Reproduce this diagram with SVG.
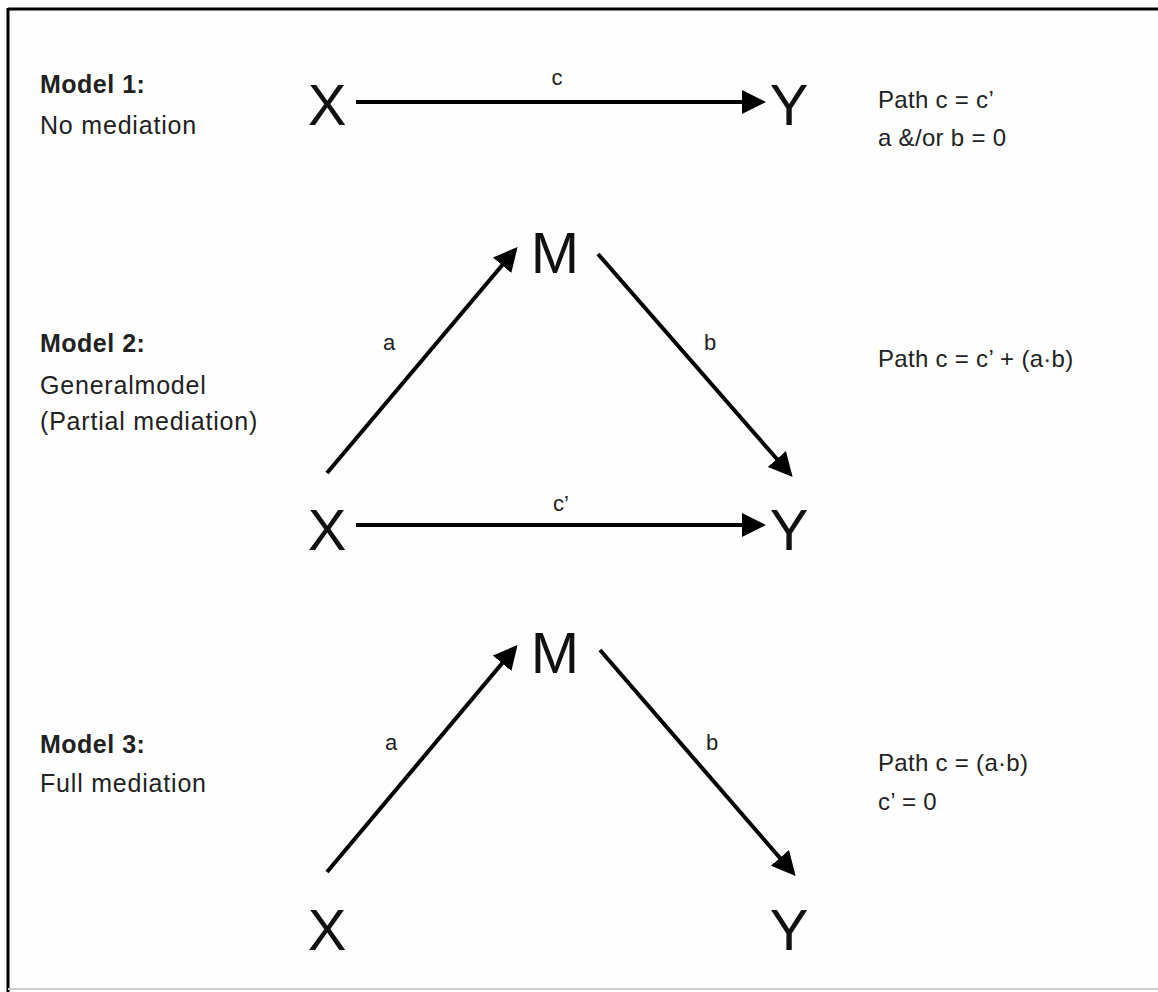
<svg xmlns="http://www.w3.org/2000/svg" width="1158" height="992" viewBox="0 0 1158 992">
<defs>
<marker id="ah" markerWidth="6" markerHeight="6" refX="5" refY="3" orient="auto" markerUnits="strokeWidth">
<path d="M0,0 L6,3 L0,6 z" fill="#000"/>
</marker>
<style>
.var{font-family:"Liberation Sans",Arial,sans-serif;font-size:58px;fill:#111;text-anchor:middle}
.lbl{font-family:"Liberation Sans",Arial,sans-serif;font-size:25px;fill:#222;letter-spacing:0.8px}
.rt{font-family:"Liberation Sans",Arial,sans-serif;font-size:24px;fill:#222;letter-spacing:0.3px}
.bold{font-weight:bold;letter-spacing:0.5px}
.edge{font-family:"Liberation Sans",Arial,sans-serif;font-size:22px;fill:#222;text-anchor:middle}
.conn{stroke:#000;stroke-width:4;fill:none;marker-end:url(#ah)}
</style>
</defs>
<rect width="1158" height="992" fill="#fefefe"/>
<line x1="8" y1="9" x2="1158" y2="9" stroke="#000" stroke-width="3"/>
<line x1="8" y1="8" x2="8" y2="992" stroke="#000" stroke-width="3"/>
<line x1="8" y1="989" x2="1158" y2="989" stroke="#ccc" stroke-width="2"/>

<g id="labels">
<text class="lbl bold" x="40" y="93">Model 1:</text>
<text class="lbl" x="40" y="134">No mediation</text>
<text class="lbl bold" x="40" y="352">Model 2:</text>
<text class="lbl" x="40" y="394">Generalmodel</text>
<text class="lbl" x="40" y="430">(Partial mediation)</text>
<text class="lbl bold" x="40" y="753">Model 3:</text>
<text class="lbl" x="40" y="792">Full mediation</text>
<text class="rt" x="878" y="108">Path c = c’</text>
<text class="rt" x="878" y="146">a &amp;/or b = 0</text>
<text class="rt" x="878" y="367">Path c = c’ + (a·b)</text>
<text class="rt" x="878" y="771">Path c = (a·b)</text>
<text class="rt" x="878" y="810">c’ = 0</text>
</g>

<g id="m1-x"><text class="var" x="327" y="125">X</text></g>
<g id="m1-y"><text class="var" x="789" y="125">Y</text></g>
<g id="m2-m"><text class="var" x="555" y="273">M</text></g>
<g id="m2-x"><text class="var" x="327" y="550">X</text></g>
<g id="m2-y"><text class="var" x="789" y="550">Y</text></g>
<g id="m3-m"><text class="var" x="555" y="673">M</text></g>
<g id="m3-x"><text class="var" x="327" y="950">X</text></g>
<g id="m3-y"><text class="var" x="789" y="950">Y</text></g>

<g id="connectors">
<line class="conn" x1="356" y1="102" x2="762" y2="102"/>
<text class="edge" x="557" y="85">c</text>
<line class="conn" x1="327" y1="473" x2="515" y2="250"/>
<line class="conn" x1="598" y1="254" x2="790" y2="474"/>
<line class="conn" x1="356" y1="525" x2="762" y2="525"/>
<text class="edge" x="389" y="350">a</text>
<text class="edge" x="710" y="350">b</text>
<text class="edge" x="561" y="511">c’</text>
<line class="conn" x1="327" y1="872" x2="515" y2="648"/>
<line class="conn" x1="600" y1="650" x2="793" y2="873"/>
<text class="edge" x="391" y="750">a</text>
<text class="edge" x="712" y="750">b</text>
</g>
</svg>
